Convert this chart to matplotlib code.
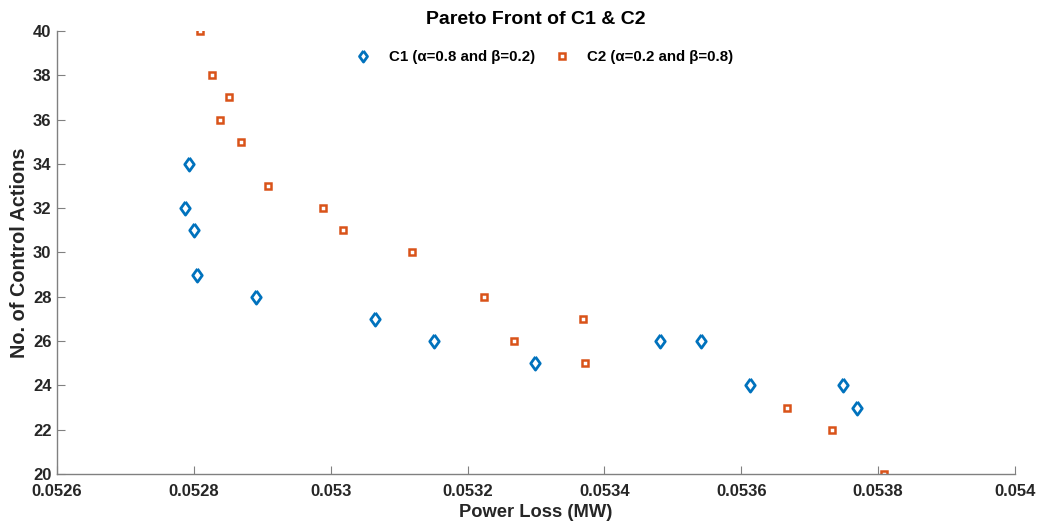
import numpy as np
import matplotlib.pyplot as plt

plt.rcParams['font.family'] = ['Liberation Sans', 'DejaVu Sans']
plt.rcParams['font.weight'] = 'bold'

# C1 (alpha=0.8, beta=0.2)
c1_loss = [0.052793, 0.052787, 0.052800, 0.052805, 0.052891, 0.053065, 0.053151,
           0.053299, 0.053481, 0.053541, 0.053613, 0.053749, 0.053769]
c1_actions = [34, 32, 31, 29, 28, 27, 26, 25, 26, 26, 24, 24, 23]

# C2 (alpha=0.2, beta=0.8)
c2_loss = [0.052809, 0.052827, 0.052851, 0.052838, 0.052869, 0.052908, 0.052989,
           0.053018, 0.053119, 0.053224, 0.053268, 0.053369, 0.053372, 0.053667,
           0.053733, 0.053809]
c2_actions = [40, 38, 37, 36, 35, 33, 32, 31, 30, 28, 26, 27, 25, 23, 22, 20]

xticks = [0.0526, 0.0528, 0.053, 0.0532, 0.0534, 0.0536, 0.0538, 0.054]
xticklabels = ['0.0526', '0.0528', '0.053', '0.0532', '0.0534', '0.0536', '0.0538', '0.054']
yticks = np.arange(20, 41, 2)

# matlab-style diamond (a bit wider than matplotlib's thin diamond)
diamond = [(0, 1), (0.72, 0), (0, -1), (-0.72, 0), (0, 1)]

fig = plt.figure(figsize=(10.44, 5.27), dpi=100)
ax = fig.add_axes([0.0546, 0.1006, 0.9176, 0.8406])

ax.plot(c1_loss, c1_actions, linestyle='none', marker=diamond, markersize=9.5,
        markerfacecolor='none', markeredgecolor='#0072BD', markeredgewidth=2,
        label='C1 (α=0.8 and β=0.2)')
ax.plot(c2_loss, c2_actions, linestyle='none', marker='s', markersize=4.5,
        markerfacecolor='none', markeredgecolor='#D95319', markeredgewidth=1.8,
        label='C2 (α=0.2 and β=0.8)')

ax.set_xlim(0.0526, 0.054)
ax.set_ylim(20, 40)
ax.set_xticks(xticks)
ax.set_xticklabels(xticklabels)
ax.set_yticks(yticks)

for s in ['top', 'right']:
    ax.spines[s].set_visible(False)
for s in ['left', 'bottom']:
    ax.spines[s].set_color('#808080')
    ax.spines[s].set_linewidth(1)
ax.tick_params(direction='in', length=6, color='#808080', labelsize=12,
               labelcolor='#262626')
ax.tick_params(axis='x', pad=7)
ax.tick_params(axis='y', pad=4)
for lab in ax.get_xticklabels() + ax.get_yticklabels():
    lab.set_fontweight('bold')

ax.set_xlabel('Power Loss (MW)', fontsize=13.2, fontweight='bold', color='#262626', labelpad=4)
ax.set_ylabel('No. of Control Actions', fontsize=14.3, fontweight='bold', color='#262626', labelpad=3)
ax.set_title('Pareto Front of C1 & C2', fontsize=14, fontweight='bold', color='black', pad=5)

leg = ax.legend(loc='upper center', bbox_to_anchor=(0.508, 1.0), ncol=2, frameon=False,
                fontsize=10.8, handlelength=1.2, handletextpad=1.1, columnspacing=1.2,
                borderaxespad=0.9)
leg.legend_handles[0].set_markersize(8)

fig.savefig('out.png', dpi=100)
